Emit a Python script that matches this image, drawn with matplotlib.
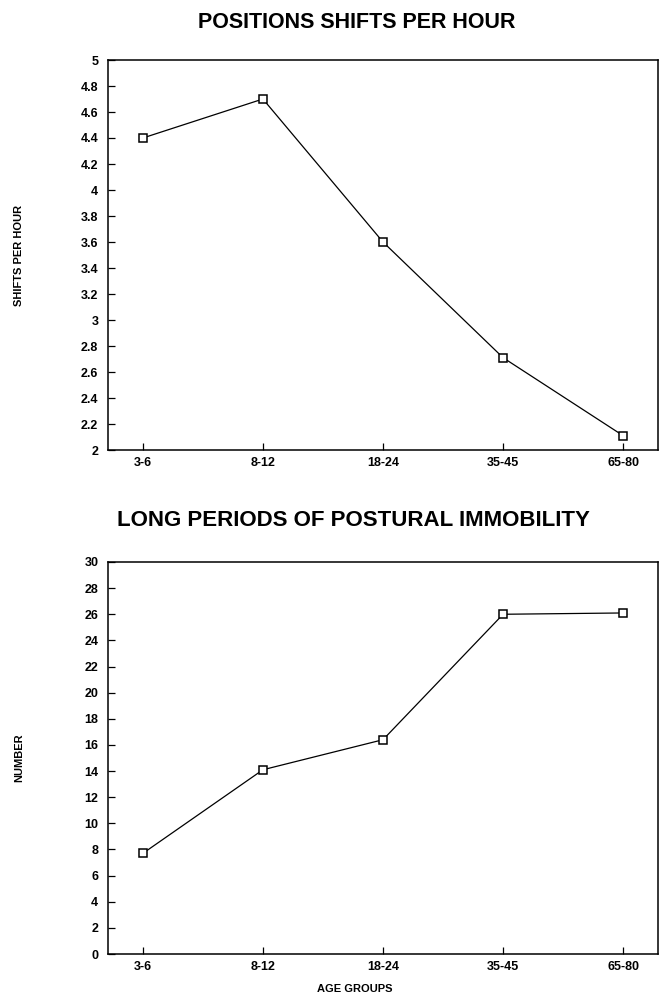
import matplotlib.pyplot as plt
from matplotlib.ticker import FuncFormatter

AGE_GROUPS = ["3-6", "8-12", "18-24", "35-45", "65-80"]
SHIFTS_PER_HOUR = [4.4, 4.7, 3.6, 2.71, 2.11]
IMMOBILITY_PERIODS = [7.7, 14.1, 16.4, 26.0, 26.1]

SHIFT_TICKS = [2, 2.2, 2.4, 2.6, 2.8, 3, 3.2, 3.4, 3.6, 3.8, 4, 4.2, 4.4, 4.6, 4.8, 5]
NUMBER_TICKS = list(range(0, 31, 2))

plt.rcParams["font.family"] = ["Liberation Sans", "DejaVu Sans"]
plt.rcParams["font.weight"] = "bold"


def style_axes(ax, yticks, ylim):
    x = range(len(AGE_GROUPS))
    ax.set_xticks(list(x))
    ax.set_xticklabels(AGE_GROUPS)
    ax.set_xlim(-0.29, 4.29)
    ax.set_yticks(yticks)
    ax.set_ylim(*ylim)
    ax.yaxis.set_major_formatter(FuncFormatter(lambda v, _: f"{v:g}"))
    ax.tick_params(direction="in", length=5, width=0.9, labelsize=9)
    ax.tick_params(axis="x", pad=5)
    ax.tick_params(axis="y", pad=7)
    for s in ax.spines.values():
        s.set_linewidth(1.1)
    for lab in ax.get_xticklabels() + ax.get_yticklabels():
        lab.set_fontweight("bold")


fig = plt.figure(figsize=(6.64, 9.97), dpi=100)

ax1 = fig.add_axes([108 / 664, 1 - 450 / 997, 550 / 664, 390 / 997])
ax1.plot(range(len(AGE_GROUPS)), SHIFTS_PER_HOUR, color="black", lw=0.9,
         marker="s", markersize=5.5, markerfacecolor="white", markeredgecolor="black", markeredgewidth=1.1)
style_axes(ax1, SHIFT_TICKS, (2, 5))

ax2 = fig.add_axes([108 / 664, 1 - 954 / 997, 550 / 664, 392 / 997])
ax2.plot(range(len(AGE_GROUPS)), IMMOBILITY_PERIODS, color="black", lw=0.9,
         marker="s", markersize=5.5, markerfacecolor="white", markeredgecolor="black", markeredgewidth=1.1)
style_axes(ax2, NUMBER_TICKS, (0, 30))

fig.text(357 / 664, 1 - 22 / 997, "POSITIONS SHIFTS PER HOUR", ha="center", va="center",
         fontsize=15.5, fontweight="bold")
fig.text(353 / 664, 1 - 521 / 997, "LONG PERIODS OF POSTURAL IMMOBILITY", ha="center", va="center",
         fontsize=16, fontweight="bold")

fig.text(19 / 664, 1 - 255 / 997, "SHIFTS PER HOUR", rotation=90, ha="center", va="center",
         fontsize=8, fontweight="bold")
fig.text(19 / 664, 1 - 758 / 997, "NUMBER", rotation=90, ha="center", va="center",
         fontsize=8, fontweight="bold")
fig.text(355 / 664, 1 - 989 / 997, "AGE GROUPS", ha="center", va="center",
         fontsize=8, fontweight="bold")

fig.savefig("out.png", dpi=100)
